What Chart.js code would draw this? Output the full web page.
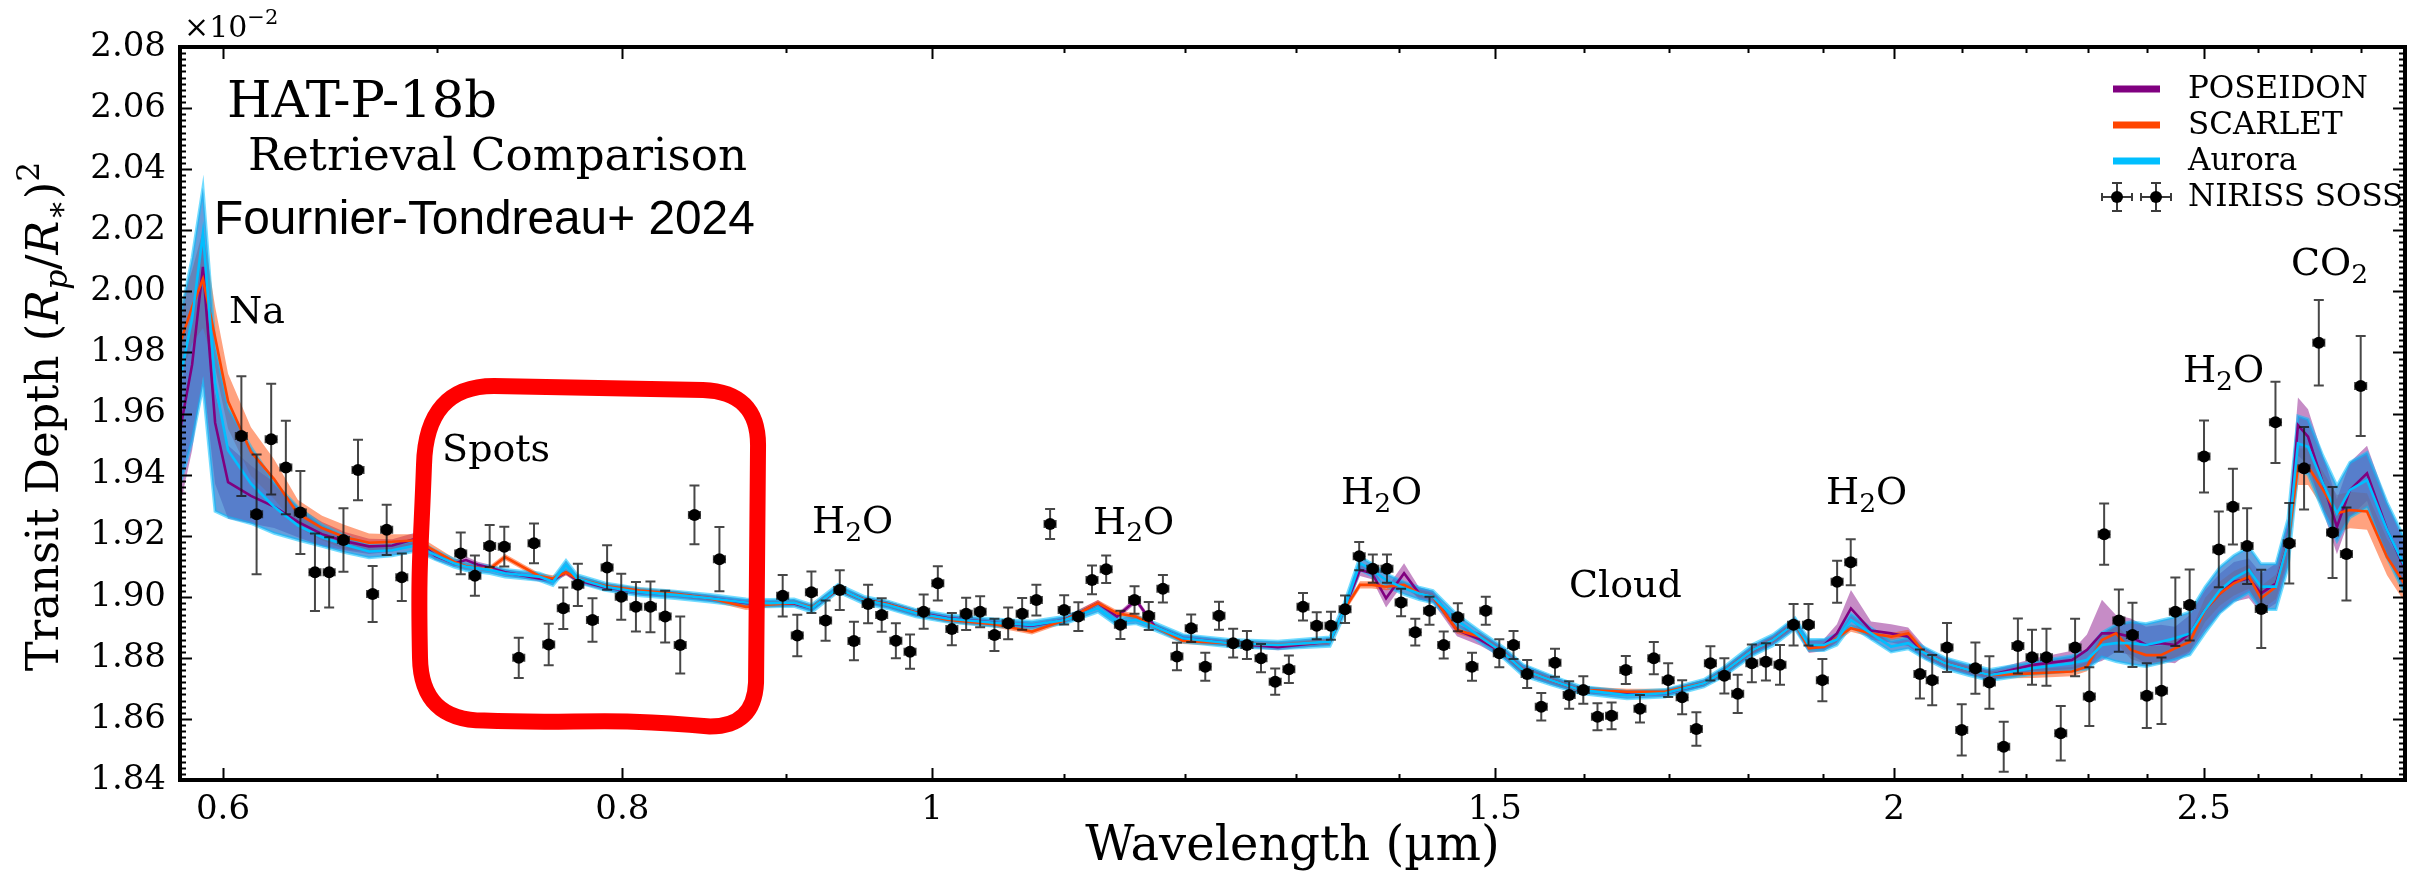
<!DOCTYPE html>
<html>
<head>
<meta charset="utf-8">
<title>HAT-P-18b retrieval comparison</title>
<script src="https://cdn.jsdelivr.net/npm/chart.js@4.4.1/dist/chart.umd.min.js"></script>
<style>
  html, body { margin: 0; padding: 0; background: #fff; }
  #wrap { width: 2423px; height: 892px; }
</style>
</head>
<body>
<div id="wrap"><canvas id="spectrum" width="2423" height="892"></canvas></div>
<script>
// model wavelength grid (um)
const modelWl = [
  0.582, 0.5868, 0.5914, 0.5966, 0.6022, 0.6122, 0.6225, 0.6333, 0.6444, 0.6551,
  0.6666, 0.6778, 0.6895, 0.6990, 0.7086, 0.7148, 0.7210, 0.7273, 0.7352, 0.7534,
  0.7610, 0.7682, 0.7743, 0.7901, 0.8103, 0.8310, 0.8522, 0.8746, 0.8899, 0.9054,
  0.9171, 0.9345, 0.9522, 0.9688, 0.9886, 1.0109, 1.0457, 1.0747, 1.1006, 1.1270,
  1.1426, 1.1583, 1.1743, 1.1982, 1.2395, 1.2831, 1.3320, 1.3456, 1.3612, 1.3730,
  1.3870, 1.4051, 1.4203, 1.4347, 1.4597, 1.4841, 1.5100, 1.5308, 1.5620, 1.5950,
  1.6498, 1.6956, 1.7440, 1.7693, 1.8066, 1.8328, 1.8622, 1.8810, 1.9015, 1.9193,
  1.9388, 1.9671, 1.9957, 2.0204, 2.0452, 2.0749, 2.1110, 2.1432, 2.2105, 2.2735,
  2.2982, 2.3231, 2.3467, 2.3722, 2.3980, 2.4240, 2.4486, 2.4752, 2.5023, 2.5294,
  2.5549, 2.5826, 2.6051, 2.6335, 2.6563, 2.6755, 2.6950, 2.7242, 2.7517, 2.7776,
  2.8120, 2.8528, 2.890
];

// median transit depth of each retrieval (x1e-2)
const poseidonMid = [
  1.9557, 1.976, 2.008, 1.957, 1.9375, 1.933, 1.9295, 1.9245, 1.9205, 1.9182,
  1.9165, 1.9168, 1.919, 1.9135, 1.911, 1.912, 1.9105, 1.9095, 1.908, 1.906,
  1.9055, 1.908, 1.9055, 1.903, 1.9015, 1.9008, 1.8995, 1.898, 1.8978, 1.8978,
  1.8963, 1.9025, 1.899, 1.8975, 1.8948, 1.893, 1.8915, 1.8905, 1.8925, 1.8979,
  1.8935, 1.8989, 1.8902, 1.8864, 1.8848, 1.8835, 1.8853, 1.8957, 1.9088, 1.9077,
  1.8995, 1.9077, 1.9011, 1.900, 1.8891, 1.886, 1.8815, 1.876, 1.8727, 1.8695,
  1.8685, 1.8684, 1.8717, 1.8755, 1.8826, 1.8858, 1.8913, 1.8836, 1.8842, 1.888,
  1.8962, 1.8889, 1.888, 1.8869, 1.8815, 1.8782, 1.876, 1.8744, 1.8777, 1.8793,
  1.8826, 1.888, 1.888, 1.8869, 1.8842, 1.8848, 1.8842, 1.888, 1.8957, 1.9011,
  1.9049, 1.906, 1.9011, 1.9044, 1.9175, 1.9562, 1.9524, 1.9371, 1.9229, 1.935,
  1.9404, 1.922, 1.909
];
const scarletMid = [
  1.9836, 1.9949, 2.004, 1.985, 1.964, 1.9475, 1.9385, 1.9272, 1.9225, 1.9195,
  1.9177, 1.918, 1.9185, 1.915, 1.9115, 1.910, 1.9095, 1.9092, 1.913, 1.9068,
  1.906, 1.908, 1.906, 1.9035, 1.902, 1.901, 1.8995, 1.8967, 1.8975, 1.898,
  1.8965, 1.9025, 1.899, 1.8975, 1.8948, 1.8925, 1.891, 1.8886, 1.8924, 1.8979,
  1.8946, 1.8935, 1.8902, 1.8855, 1.8848, 1.8842, 1.8853, 1.8957, 1.9039, 1.9039,
  1.9033, 1.9039, 1.9011, 1.900, 1.8891, 1.8869, 1.8815, 1.876, 1.8727, 1.8695,
  1.8689, 1.8689, 1.8717, 1.8755, 1.8826, 1.8858, 1.8913, 1.8831, 1.8836, 1.8865,
  1.8897, 1.888, 1.8869, 1.888, 1.8815, 1.8782, 1.876, 1.8744, 1.8749, 1.8755,
  1.8771, 1.8858, 1.888, 1.8826, 1.8809, 1.8809, 1.8831, 1.8853, 1.8957, 1.9011,
  1.9044, 1.9066, 1.8995, 1.9033, 1.9175, 1.9426, 1.9426, 1.935, 1.9273, 1.9284,
  1.9279, 1.913, 1.904
];
const auroraMid = [
  1.9725, 1.991, 2.019, 1.970, 1.948, 1.937, 1.9295, 1.9233, 1.9195, 1.917,
  1.9148, 1.9152, 1.9168, 1.9137, 1.911, 1.9098, 1.9093, 1.9088, 1.9077, 1.9066,
  1.9049, 1.9104, 1.906, 1.9033, 1.9015, 1.9006, 1.8995, 1.8981, 1.8979, 1.8981,
  1.8962, 1.9028, 1.8989, 1.8973, 1.8946, 1.8929, 1.8915, 1.8908, 1.8924, 1.8962,
  1.8918, 1.8924, 1.8902, 1.8864, 1.8848, 1.8842, 1.8853, 1.8957, 1.911, 1.9088,
  1.9055, 1.9028, 1.9011, 1.900, 1.8924, 1.8869, 1.8815, 1.876, 1.8727, 1.8695,
  1.8678, 1.8684, 1.8717, 1.8755, 1.8826, 1.8858, 1.8913, 1.8842, 1.8842, 1.886,
  1.8924, 1.888, 1.8837, 1.8848, 1.8815, 1.8782, 1.876, 1.8744, 1.8766, 1.8782,
  1.8793, 1.8842, 1.8848, 1.8848, 1.8842, 1.8853, 1.8864, 1.888, 1.8957, 1.9022,
  1.906, 1.9088, 1.9033, 1.9033, 1.9175, 1.9502, 1.9491, 1.9371, 1.9273, 1.935,
  1.9382, 1.9219, 1.9098
];

// 1-sigma spread below / above each median
const poseidonLo = [
  0.025, 0.028, 0.036, 0.02, 0.012, 0.009, 0.007, 0.005, 0.004, 0.003,
  0.0025, 0.002, 0.002, 0.0015, 0.0012, 0.0012, 0.001, 0.001, 0.001, 0.001,
  0.001, 0.001, 0.001, 0.001, 0.001, 0.001, 0.001, 0.001, 0.001, 0.001,
  0.001, 0.001, 0.001, 0.001, 0.001, 0.001, 0.001, 0.001, 0.001, 0.001,
  0.001, 0.001, 0.001, 0.001, 0.001, 0.001, 0.001, 0.0015, 0.002, 0.002,
  0.003, 0.003, 0.002, 0.002, 0.002, 0.002, 0.0018, 0.0018, 0.0015, 0.0012,
  0.001, 0.001, 0.0012, 0.0015, 0.0015, 0.0015, 0.002, 0.002, 0.002, 0.003,
  0.004, 0.003, 0.003, 0.003, 0.002, 0.0015, 0.0015, 0.0015, 0.002, 0.003,
  0.005, 0.009, 0.006, 0.006, 0.006, 0.006, 0.006, 0.006, 0.0065, 0.0065,
  0.0065, 0.0065, 0.0065, 0.0065, 0.007, 0.01, 0.009, 0.009, 0.009, 0.009,
  0.009, 0.009, 0.008
];
const poseidonHi = [
  0.012, 0.015, 0.012, 0.01, 0.012, 0.01, 0.008, 0.005, 0.004, 0.003,
  0.0025, 0.002, 0.002, 0.0015, 0.0012, 0.0012, 0.001, 0.001, 0.001, 0.001,
  0.001, 0.001, 0.001, 0.001, 0.001, 0.001, 0.001, 0.001, 0.001, 0.001,
  0.001, 0.001, 0.001, 0.001, 0.001, 0.001, 0.001, 0.001, 0.001, 0.001,
  0.001, 0.001, 0.001, 0.001, 0.001, 0.001, 0.001, 0.0015, 0.002, 0.002,
  0.003, 0.0033, 0.002, 0.002, 0.002, 0.002, 0.0018, 0.0018, 0.0015, 0.0012,
  0.001, 0.001, 0.0012, 0.0015, 0.0015, 0.0015, 0.002, 0.002, 0.002, 0.003,
  0.006, 0.003, 0.003, 0.003, 0.002, 0.0015, 0.0015, 0.0015, 0.002, 0.003,
  0.005, 0.011, 0.006, 0.006, 0.006, 0.006, 0.006, 0.006, 0.0065, 0.0065,
  0.0065, 0.0065, 0.0065, 0.0065, 0.007, 0.009, 0.009, 0.009, 0.009, 0.009,
  0.009, 0.009, 0.008
];
const scarletBand = [
  0.012, 0.012, 0.016, 0.01, 0.009, 0.008, 0.0065, 0.0045, 0.004, 0.004,
  0.003, 0.0025, 0.002, 0.0015, 0.0012, 0.0012, 0.001, 0.001, 0.001, 0.001,
  0.001, 0.001, 0.001, 0.001, 0.001, 0.001, 0.001, 0.001, 0.001, 0.001,
  0.001, 0.001, 0.001, 0.001, 0.001, 0.001, 0.001, 0.001, 0.001, 0.001,
  0.001, 0.001, 0.001, 0.001, 0.001, 0.001, 0.001, 0.0012, 0.0012, 0.0012,
  0.0012, 0.0012, 0.0012, 0.0012, 0.0012, 0.0012, 0.0012, 0.0012, 0.0012, 0.0012,
  0.001, 0.001, 0.001, 0.0012, 0.0012, 0.0012, 0.0012, 0.0012, 0.0012, 0.0012,
  0.0012, 0.0012, 0.0012, 0.0012, 0.0012, 0.0012, 0.0012, 0.0012, 0.0015, 0.0015,
  0.0015, 0.002, 0.003, 0.003, 0.003, 0.003, 0.003, 0.003, 0.004, 0.004,
  0.004, 0.004, 0.004, 0.004, 0.005, 0.006, 0.006, 0.006, 0.006, 0.006,
  0.006, 0.006, 0.006
];
const auroraLo = [
  0.035, 0.04, 0.05, 0.042, 0.022, 0.013, 0.0087, 0.0047, 0.003, 0.0025,
  0.002, 0.0018, 0.0018, 0.0015, 0.0013, 0.0012, 0.0012, 0.0012, 0.0012, 0.0012,
  0.0012, 0.0015, 0.0012, 0.0012, 0.0012, 0.0012, 0.0012, 0.0012, 0.0012, 0.0012,
  0.0012, 0.0012, 0.0012, 0.0012, 0.0012, 0.0012, 0.0012, 0.0012, 0.0012, 0.0012,
  0.0012, 0.0012, 0.0012, 0.0012, 0.0012, 0.0012, 0.0015, 0.002, 0.0021, 0.002,
  0.002, 0.002, 0.002, 0.002, 0.0018, 0.0018, 0.0018, 0.0018, 0.0015, 0.0012,
  0.0012, 0.0012, 0.0012, 0.0015, 0.0018, 0.0018, 0.0018, 0.0018, 0.0018, 0.0018,
  0.002, 0.0018, 0.0018, 0.0018, 0.0018, 0.0018, 0.0018, 0.0018, 0.002, 0.0025,
  0.003, 0.004, 0.006, 0.007, 0.007, 0.007, 0.007, 0.007, 0.0075, 0.0075,
  0.0075, 0.0075, 0.0075, 0.0075, 0.008, 0.009, 0.009, 0.009, 0.009, 0.009,
  0.009, 0.009, 0.009
];
const auroraHi = [
  0.02, 0.02, 0.015, 0.012, 0.014, 0.012, 0.008, 0.006, 0.004, 0.003,
  0.002, 0.0018, 0.0018, 0.0015, 0.0013, 0.0012, 0.0012, 0.0012, 0.0012, 0.0012,
  0.0012, 0.0015, 0.0012, 0.0012, 0.0012, 0.0012, 0.0012, 0.0012, 0.0012, 0.0012,
  0.0012, 0.0012, 0.0012, 0.0012, 0.0012, 0.0012, 0.0012, 0.0012, 0.0012, 0.0012,
  0.0012, 0.0012, 0.0012, 0.0012, 0.0012, 0.0012, 0.0015, 0.002, 0.0021, 0.002,
  0.002, 0.002, 0.002, 0.002, 0.0018, 0.0018, 0.0018, 0.0018, 0.0015, 0.0012,
  0.0012, 0.0012, 0.0012, 0.0015, 0.0018, 0.0018, 0.0018, 0.0018, 0.0018, 0.0018,
  0.002, 0.0018, 0.0018, 0.0018, 0.0018, 0.0018, 0.0018, 0.0018, 0.002, 0.0025,
  0.003, 0.004, 0.006, 0.007, 0.007, 0.007, 0.007, 0.007, 0.0075, 0.0075,
  0.0075, 0.0075, 0.0075, 0.0075, 0.008, 0.009, 0.009, 0.009, 0.009, 0.009,
  0.009, 0.009, 0.009
];

// NIRISS SOSS binned spectrum
const sossWl = [
  0.608, 0.6147, 0.6212, 0.6278, 0.6344, 0.6411, 0.6477, 0.6544, 0.6613, 0.6683,
  0.6751, 0.6825, 0.7121, 0.7194, 0.7271, 0.7348, 0.7425, 0.7507, 0.7587, 0.7667,
  0.7748, 0.7830, 0.7913, 0.7994, 0.8079, 0.8164, 0.8251, 0.8341, 0.8427, 0.8580,
  0.8980, 0.9075, 0.9168, 0.9262, 0.9357, 0.9453, 0.9550, 0.9644, 0.9743, 0.9843,
  0.9940, 1.0042, 1.0144, 1.0249, 1.0353, 1.0460, 1.0564, 1.0671, 1.0781, 1.0888,
  1.0999, 1.1112, 1.1222, 1.1337, 1.1454, 1.1571, 1.1690, 1.1810, 1.1930, 1.2053,
  1.2176, 1.2297, 1.2423, 1.2547, 1.2675, 1.2805, 1.2932, 1.3064, 1.3194, 1.3330,
  1.3466, 1.3604, 1.3738, 1.3879, 1.4021, 1.4165, 1.4311, 1.4458, 1.4606, 1.4756,
  1.4903, 1.5049, 1.5204, 1.5354, 1.5511, 1.5665, 1.5826, 1.5988, 1.6152, 1.6317,
  1.6485, 1.6654, 1.6821, 1.6996, 1.7168, 1.7345, 1.7521, 1.7698, 1.7869, 1.8052,
  1.8236, 1.8422, 1.8603, 1.8804, 1.8993, 1.9196, 1.9385, 2.0376, 2.0557, 2.0778,
  2.0999, 2.1207, 2.1422, 2.1644, 2.1866, 2.2090, 2.2321, 2.2552, 2.2786, 2.3021,
  2.3268, 2.3516, 2.3748, 2.3994, 2.4250, 2.4493, 2.4747, 2.5004, 2.5272, 2.5530,
  2.5793, 2.6057, 2.6325, 2.6588, 2.6873, 2.7160, 2.7430, 2.7706, 2.7992
];
const sossDepth = [
  1.9526, 1.9270, 1.9516, 1.9423, 1.9276, 1.9080, 1.9080, 1.9186, 1.9415, 1.9009,
  1.9219, 1.9064, 1.9142, 1.9069, 1.9166, 1.9164, 1.8800, 1.9175, 1.8844, 1.8962,
  1.9039, 1.8924, 1.9096, 1.9000, 1.8967, 1.8967, 1.8935, 1.8842, 1.9268, 1.9123,
  1.9003, 1.8873, 1.9015, 1.8922, 1.9022, 1.8855, 1.8976, 1.8940, 1.8856, 1.8820,
  1.8951, 1.9044, 1.8894, 1.8944, 1.8951, 1.8875, 1.8913, 1.8944, 1.8989, 1.9238,
  1.8957, 1.8935, 1.9055, 1.9090, 1.8908, 1.8989, 1.8937, 1.9026, 1.8804, 1.8897,
  1.8771, 1.8938, 1.8848, 1.8842, 1.8799, 1.8722, 1.8763, 1.8967, 1.8905, 1.8905,
  1.8959, 1.9133, 1.9092, 1.9092, 1.8981, 1.8884, 1.8954, 1.8842, 1.8933, 1.8771,
  1.8954, 1.8815, 1.8842, 1.8747, 1.8640, 1.8784, 1.8678, 1.8695, 1.8607, 1.8610,
  1.8760, 1.8633, 1.8799, 1.8727, 1.8671, 1.8567, 1.8782, 1.8741, 1.8682, 1.8782,
  1.8787, 1.8777, 1.8908, 1.8908, 1.8727, 1.9049, 1.9113, 1.8747, 1.8727, 1.8834,
  1.8564, 1.8766, 1.8719, 1.8509, 1.8839, 1.8802, 1.8802, 1.8553, 1.8834, 1.8673,
  1.9205, 1.8922, 1.8875, 1.8676, 1.8692, 1.8951, 1.8973, 1.9459, 1.9155, 1.9295,
  1.9166, 1.8960, 1.9571, 1.9175, 1.9421, 1.9832, 1.9210, 1.9140, 1.9690
];
const sossErr = [
  0.0196, 0.0196, 0.0181, 0.0153, 0.0136, 0.0127, 0.0115, 0.0104, 0.0099, 0.0092,
  0.0082, 0.0078, 0.0068, 0.0066, 0.0069, 0.0065, 0.0066, 0.0065, 0.0068, 0.0068,
  0.0069, 0.0071, 0.0073, 0.0075, 0.0081, 0.0083, 0.0085, 0.0093, 0.0096, 0.0105,
  0.0068, 0.0068, 0.0068, 0.0066, 0.0065, 0.0063, 0.0063, 0.0055, 0.0057, 0.0056,
  0.0056, 0.0056, 0.0053, 0.0053, 0.0051, 0.0053, 0.0052, 0.0052, 0.0050, 0.0049,
  0.0048, 0.0047, 0.0047, 0.0045, 0.0046, 0.0045, 0.0046, 0.0045, 0.0045, 0.0045,
  0.0046, 0.0046, 0.0047, 0.0046, 0.0046, 0.0043, 0.0045, 0.0045, 0.0044, 0.0046,
  0.0045, 0.0046, 0.0046, 0.0046, 0.0045, 0.0044, 0.0046, 0.0044, 0.0046, 0.0046,
  0.0046, 0.0046, 0.0046, 0.0046, 0.0045, 0.0046, 0.0045, 0.0045, 0.0044, 0.0044,
  0.0046, 0.0045, 0.0053, 0.0055, 0.0056, 0.0055, 0.0056, 0.0058, 0.0063, 0.0062,
  0.0061, 0.0065, 0.0068, 0.0068, 0.0069, 0.0069, 0.0075, 0.0080, 0.0082, 0.0080,
  0.0084, 0.0084, 0.0086, 0.0082, 0.0090, 0.0090, 0.0093, 0.0089, 0.0094, 0.0096,
  0.0100, 0.0102, 0.0105, 0.0106, 0.0109, 0.0112, 0.0116, 0.0118, 0.0124, 0.0124,
  0.0124, 0.0128, 0.0133, 0.0132, 0.0135, 0.0140, 0.0149, 0.0152, 0.0164
];
// spectral binning resolving power (bin half width = wl / 2R)
const sossResolution = 125;

// axes
const xMin = 0.5817, xMax = 2.890;
const yMin = 1.84, yMax = 2.08;
const xTickValues = [0.6, 0.7, 0.8, 0.9, 1.0, 1.1, 1.2, 1.3, 1.4, 1.5, 1.6, 1.7, 1.8,
  1.9, 2.0, 2.1, 2.2, 2.3, 2.4, 2.5, 2.6, 2.7, 2.8];
const xTickLabels = [0.6, 0.8, 1, 1.5, 2, 2.5];
const yTickValues = [1.84, 1.86, 1.88, 1.90, 1.92, 1.94, 1.96, 1.98, 2.00, 2.02, 2.04, 2.06, 2.08];

// feature labels: [text parts, wavelength, depth]
const H2O = [{t: 'H'}, {t: '2', sub: true}, {t: 'O'}];
const featureLabels = [
  [[{t: 'Na'}], 0.6026, 1.9896],
  [[{t: 'Spots'}], 0.7026, 1.9444],
  [H2O, 0.9172, 1.9209],
  [H2O, 1.1230, 1.9206],
  [H2O, 1.3427, 1.9304],
  [[{t: 'Cloud'}], 1.5824, 1.8999],
  [H2O, 1.9043, 1.9304],
  [H2O, 2.4628, 1.9703],
  [[{t: 'CO'}, {t: '2', sub: true}], 2.6621, 2.0053]
];
// region marked as stellar-spot contaminated
const spotsBox = {x0: 0.6935, x1: 0.8822, y0: 1.8588, y1: 1.9677};

const SERIF = '"DejaVu Serif", serif';
const COLORS = {poseidon: '#800080', scarlet: '#FF4500', aurora: '#00BFFF'};

function xy(xs, ys) { return xs.map((x, i) => ({x: x, y: ys[i]})); }
function edge(xs, ys, d, s) { return xs.map((x, i) => ({x: x, y: ys[i] + s * d[i]})); }

function bandPair(label, mid, lo, hi, fillColor, edgeColor, edgeWidth, order) {
  return [
    {label: label + ' lo', data: edge(modelWl, mid, lo, -1), borderColor: edgeColor,
     borderWidth: edgeWidth, pointRadius: 0, fill: false, order: order},
    {label: label + ' hi', data: edge(modelWl, mid, hi, 1), borderColor: edgeColor,
     borderWidth: edgeWidth, pointRadius: 0, fill: '-1', backgroundColor: fillColor, order: order}
  ];
}
function modelLine(label, mid, color, order) {
  return {label: label, data: xy(modelWl, mid), borderColor: color, borderWidth: 2.6,
          pointRadius: 0, fill: false, order: order};
}

// draws a run of text with sub/superscripts, returns its width
function richText(ctx, parts, x, y, size, draw) {
  let cx = x;
  parts.forEach(p => {
    const s = (p.sub || p.sup) ? size * 0.7 : size;
    ctx.font = (p.it ? 'italic ' : '') + s + 'px ' + SERIF;
    const dy = p.sub ? size * 0.2 : (p.sup ? -size * 0.42 : 0);
    if (draw) ctx.fillText(p.t, cx, y + dy);
    cx += ctx.measureText(p.t).width;
  });
  return cx - x;
}

// sizes a single line of text so it spans the given width
function fittedText(ctx, text, family, x, y, width) {
  ctx.font = '40px ' + family;
  const size = 40 * width / ctx.measureText(text).width;
  ctx.font = size.toFixed(1) + 'px ' + family;
  ctx.fillText(text, x, y);
}

const errorBars = {
  id: 'errorBars',
  beforeDatasetDraw(chart, args) {
    if (chart.data.datasets[args.index].label !== 'NIRISS SOSS') return;
    const {ctx, scales: {x, y}} = chart;
    ctx.save();
    ctx.strokeStyle = 'rgba(25,25,25,0.8)';
    ctx.lineWidth = 2;
    ctx.beginPath();
    sossWl.forEach((w, i) => {
      const px = x.getPixelForValue(w), py = y.getPixelForValue(sossDepth[i]);
      const yt = y.getPixelForValue(sossDepth[i] + sossErr[i]);
      const yb = y.getPixelForValue(sossDepth[i] - sossErr[i]);
      const half = w / (2 * sossResolution);
      const xl = x.getPixelForValue(w - half), xr = x.getPixelForValue(w + half);
      ctx.moveTo(px, yt); ctx.lineTo(px, yb);
      ctx.moveTo(px - 5, yt); ctx.lineTo(px + 5, yt);
      ctx.moveTo(px - 5, yb); ctx.lineTo(px + 5, yb);
      ctx.moveTo(xl, py); ctx.lineTo(xr, py);
      ctx.moveTo(xl, py - 4); ctx.lineTo(xl, py + 4);
      ctx.moveTo(xr, py - 4); ctx.lineTo(xr, py + 4);
    });
    ctx.stroke();
    ctx.restore();
  }
};

// inward ticks on all four sides plus the frame
const frame = {
  id: 'frame',
  afterDatasetsDraw(chart) {
    const {ctx, chartArea: a, scales: {x, y}} = chart;
    ctx.save();
    ctx.strokeStyle = '#000';
    ctx.lineWidth = 2;
    ctx.beginPath();
    xTickValues.forEach(v => {
      const px = Math.round(x.getPixelForValue(v)) + 0.5;
      const len = xTickLabels.some(t => Math.abs(t - v) < 1e-6) ? 12 : 6;
      ctx.moveTo(px, a.bottom); ctx.lineTo(px, a.bottom - len);
      ctx.moveTo(px, a.top); ctx.lineTo(px, a.top + len);
    });
    for (let k = 0; k <= 120; k++) {
      const py = Math.round(y.getPixelForValue(yMin + k * 0.002)) + 0.5;
      const len = k % 10 === 0 ? 12 : 6;
      ctx.moveTo(a.left, py); ctx.lineTo(a.left + len, py);
      ctx.moveTo(a.right, py); ctx.lineTo(a.right - len, py);
    }
    ctx.stroke();
    ctx.lineWidth = 4;
    ctx.strokeRect(a.left, a.top, a.right - a.left, a.bottom - a.top);
    ctx.restore();
  }
};

const decorations = {
  id: 'decorations',
  afterDraw(chart) {
    const {ctx, chartArea: a, scales: {x, y}} = chart;
    ctx.save();
    ctx.fillStyle = '#000';
    ctx.textBaseline = 'alphabetic';
    ctx.textAlign = 'left';

    // title block
    fittedText(ctx, 'HAT-P-18b', SERIF, a.left + 47, 117, 270);
    fittedText(ctx, 'Retrieval Comparison', SERIF, a.left + 68, 170, 499);
    fittedText(ctx, 'Fournier-Tondreau+ 2024', '"Liberation Sans", Arial, sans-serif', a.left + 34, 234, 541);

    // feature labels
    featureLabels.forEach(([parts, w, d]) => {
      richText(ctx, parts, x.getPixelForValue(w), y.getPixelForValue(d), 38, true);
    });

    // axis offset text
    richText(ctx, [{t: '\u00d710'}, {t: '\u22122', sup: true}], a.left + 4, 37, 30, true);

    // y axis title
    const yTitle = [{t: 'Transit Depth '}, {t: '('}, {t: 'R', it: true}, {t: 'p', it: true, sub: true},
      {t: '/'}, {t: 'R', it: true}, {t: '\u2217', sub: true}, {t: ')'}, {t: '2', sup: true}];
    ctx.save();
    ctx.translate(58, (a.top + a.bottom) / 2 + 3);
    ctx.rotate(-Math.PI / 2);
    const tw = richText(ctx, yTitle, 0, 0, 45, false);
    richText(ctx, yTitle, -tw / 2, 0, 45, true);
    ctx.restore();

    // legend
    const lx = a.right - 292, rows = [a.top + 42, a.top + 78, a.top + 114, a.top + 150];
    const names = ['POSEIDON', 'SCARLET', 'Aurora'];
    [COLORS.poseidon, COLORS.scarlet, COLORS.aurora].forEach((c, i) => {
      ctx.strokeStyle = c;
      ctx.lineWidth = 7;
      ctx.beginPath();
      ctx.moveTo(lx, rows[i]); ctx.lineTo(lx + 47, rows[i]);
      ctx.stroke();
    });
    ctx.strokeStyle = 'rgba(25,25,25,0.85)';
    ctx.lineWidth = 2;
    [lx + 4, lx + 43].forEach(cx => {
      const cy = rows[3];
      ctx.beginPath();
      ctx.moveTo(cx - 15, cy); ctx.lineTo(cx + 15, cy);
      ctx.moveTo(cx - 15, cy - 4); ctx.lineTo(cx - 15, cy + 4);
      ctx.moveTo(cx + 15, cy - 4); ctx.lineTo(cx + 15, cy + 4);
      ctx.moveTo(cx, cy - 14); ctx.lineTo(cx, cy + 14);
      ctx.moveTo(cx - 5, cy - 14); ctx.lineTo(cx + 5, cy - 14);
      ctx.moveTo(cx - 5, cy + 14); ctx.lineTo(cx + 5, cy + 14);
      ctx.stroke();
      ctx.beginPath();
      ctx.arc(cx, cy, 6, 0, Math.PI * 2);
      ctx.fill();
    });
    ctx.font = '31px ' + SERIF;
    ctx.textBaseline = 'middle';
    names.concat(['NIRISS SOSS']).forEach((n, i) => ctx.fillText(n, lx + 75, rows[i] + 1));

    // hand-drawn box around the spot-affected region
    const L = x.getPixelForValue(spotsBox.x0), R = x.getPixelForValue(spotsBox.x1);
    const T = y.getPixelForValue(spotsBox.y1), B = y.getPixelForValue(spotsBox.y0);
    ctx.strokeStyle = '#ff0000';
    ctx.lineWidth = 16;
    ctx.lineJoin = 'round';
    ctx.beginPath();
    ctx.moveTo(L, T + 75);
    ctx.quadraticCurveTo(L + 2, T - 4, L + 70, T - 4);
    ctx.lineTo(R - 55, T);
    ctx.quadraticCurveTo(R, T + 2, R, T + 55);
    ctx.lineTo(R - 2, B - 40);
    ctx.quadraticCurveTo(R - 4, B + 4, R - 48, B + 4);
    ctx.bezierCurveTo(R - 150, B - 6, L + 150, B + 2, L + 60, B - 2);
    ctx.quadraticCurveTo(L - 3, B - 2, L - 4, B - 65);
    ctx.bezierCurveTo(L - 6, B - 160, L - 3, T + 160, L, T + 75);
    ctx.closePath();
    ctx.stroke();
    ctx.restore();
  }
};

const datasets = [].concat(
  bandPair('POSEIDON', poseidonMid, poseidonLo, poseidonHi, 'rgba(128,0,128,0.45)', 'rgba(0,0,0,0)', 0, 9),
  bandPair('SCARLET', scarletMid, scarletBand, scarletBand, 'rgba(255,69,0,0.5)', 'rgba(0,0,0,0)', 0, 8),
  bandPair('Aurora', auroraMid, auroraLo, auroraHi, 'rgba(45,120,205,0.72)', 'rgba(0,191,255,0.55)', 3, 7),
  [
    modelLine('POSEIDON', poseidonMid, COLORS.poseidon, 6),
    modelLine('SCARLET', scarletMid, COLORS.scarlet, 5),
    modelLine('Aurora', auroraMid, COLORS.aurora, 4),
    {label: 'NIRISS SOSS', type: 'scatter', data: xy(sossWl, sossDepth), pointRadius: 6,
     pointBackgroundColor: '#000', pointBorderWidth: 0, showLine: false, order: 1}
  ]
);

new Chart(document.getElementById('spectrum').getContext('2d'), {
  type: 'line',
  data: {datasets: datasets},
  options: {
    responsive: false,
    animation: false,
    devicePixelRatio: 1,
    events: [],
    layout: {padding: {top: 47, right: 18, left: 0, bottom: 0}},
    elements: {line: {tension: 0}},
    plugins: {legend: {display: false}, tooltip: {enabled: false}},
    scales: {
      x: {
        type: 'logarithmic',
        min: xMin,
        max: xMax,
        afterBuildTicks: s => { s.ticks = xTickValues.map(v => ({value: v})); },
        afterFit: s => { s.height = 112; },
        grid: {display: false, drawTicks: false},
        border: {display: false},
        ticks: {
          autoSkip: false, maxRotation: 0, minRotation: 0, padding: 10, color: '#000',
          font: {family: SERIF, size: 34},
          callback: v => xTickLabels.some(t => Math.abs(t - v) < 1e-6) ? String(+v.toFixed(2)) : ''
        },
        title: {display: true, text: 'Wavelength (\u00b5m)', color: '#000',
                font: {family: SERIF, size: 48}, padding: {top: 0, bottom: 16}}
      },
      y: {
        type: 'linear',
        min: yMin,
        max: yMax,
        afterBuildTicks: s => { s.ticks = yTickValues.map(v => ({value: v})); },
        afterFit: s => { s.width = 180; },
        grid: {display: false, drawTicks: false},
        border: {display: false},
        ticks: {padding: 14, color: '#000', font: {family: SERIF, size: 34},
                callback: v => v.toFixed(2)}
      }
    }
  },
  plugins: [errorBars, frame, decorations]
});
</script>
</body>
</html>
